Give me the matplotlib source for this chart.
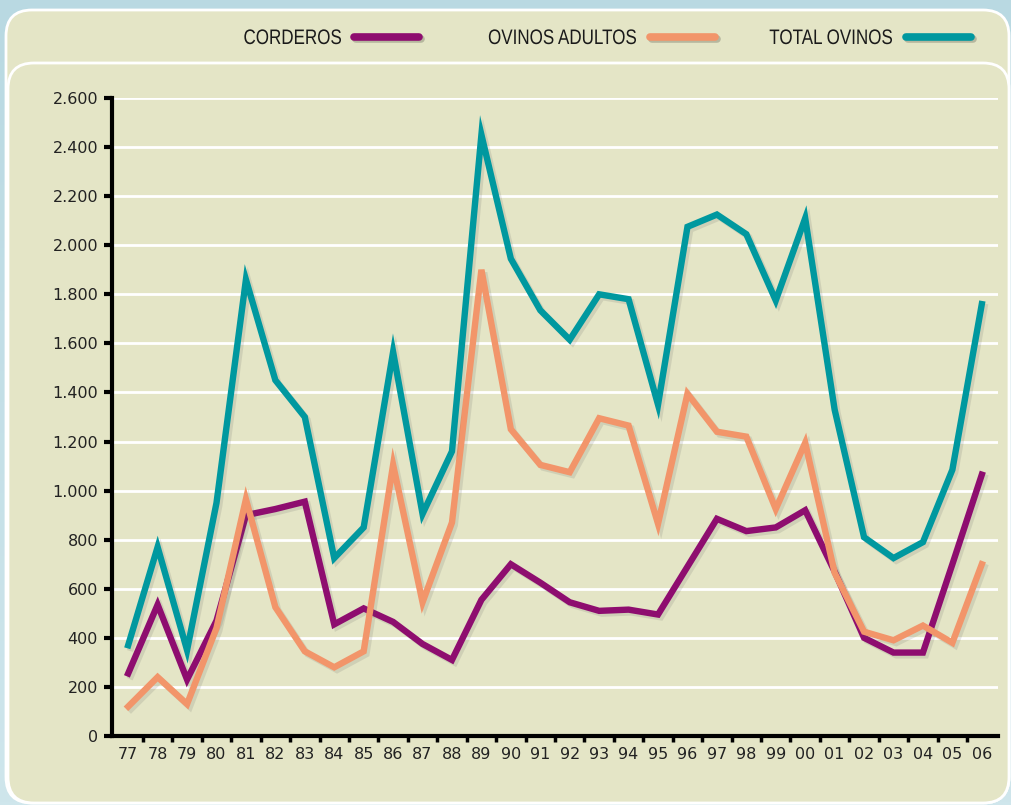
import matplotlib
matplotlib.use("Agg")
import matplotlib.pyplot as plt
import matplotlib.patheffects as pe
from matplotlib.patches import FancyBboxPatch, PathPatch
from matplotlib.textpath import TextPath
from matplotlib.font_manager import FontProperties
from matplotlib.transforms import Affine2D
from matplotlib.ticker import FuncFormatter, FixedLocator
import numpy as np

years = ["77", "78", "79", "80", "81", "82", "83", "84", "85", "86", "87", "88", "89", "90", "91",
         "92", "93", "94", "95", "96", "97", "98", "99", "00", "01", "02", "03", "04", "05", "06"]

corderos = [255, 535, 230, 470, 900, 925, 955, 455, 520, 465, 375, 310, 555, 700, 625,
            545, 510, 515, 495, 690, 885, 835, 850, 920, 670, 400, 340, 340, 700, 1065]
adultos = [120, 240, 130, 440, 965, 525, 345, 280, 345, 1105, 545, 870, 1900, 1250, 1105,
           1075, 1295, 1265, 865, 1395, 1240, 1220, 925, 1195, 665, 425, 390, 450, 380, 700]
total = [370, 770, 350, 950, 1860, 1450, 1300, 725, 850, 1565, 905, 1160, 2450, 1945, 1735,
         1615, 1800, 1780, 1350, 2075, 2125, 2045, 1775, 2110, 1330, 810, 725, 790, 1085, 1760]

series_names = ["CORDEROS", "OVINOS ADULTOS", "TOTAL OVINOS"]
series_colors = ["#8e0d6f", "#f2956a", "#00989f"]
y_ticks = list(range(0, 2601, 200))

W, H = 1012, 805
fig = plt.figure(figsize=(W / 100, H / 100), dpi=100)
fig.patch.set_facecolor("#c3dfe6")

bg = fig.add_axes([0, 0, 1, 1])
bg.set_xlim(0, W)
bg.set_ylim(H, 0)
bg.axis("off")
grad = np.linspace(0, 1, 256).reshape(-1, 1)
bg.imshow(grad, extent=[0, W, H, 0], cmap=matplotlib.colors.LinearSegmentedColormap.from_list(
    "g", ["#b9d9e2", "#cfe6ec"]), aspect="auto", zorder=0)
panel_col = "#e4e5c6"
outer = FancyBboxPatch((6, 10), 1003, 793, boxstyle="round,pad=0,rounding_size=26",
                       facecolor=panel_col, edgecolor="white", linewidth=2, zorder=1)
bg.add_patch(outer)
inner = FancyBboxPatch((8, 63), 1001, 740, boxstyle="round,pad=0,rounding_size=26",
                       facecolor=panel_col, edgecolor="white", linewidth=2, zorder=2)
bg.add_patch(inner)

# legend (condensed lettering drawn as real text paths)
fp = FontProperties(family="Liberation Sans")
leg_items = [(341, 354, 419), (636, 650, 715), (892, 906, 971)]
for name, col, (tx, l0, l1) in zip(series_names, series_colors, leg_items):
    tp = TextPath((0, 0), name, size=21, prop=fp)
    ext = tp.get_extents()
    sx = 0.81
    width = ext.x1 * sx
    tr = Affine2D().scale(sx, -1).translate(tx - width, 44)
    bg.add_patch(PathPatch(tr.transform_path(tp), facecolor="#1a1a1a", edgecolor="none", zorder=5))
    bg.plot([l0, l1], [37, 37], color=col, lw=5.5, solid_capstyle="round", zorder=5,
            path_effects=[pe.SimpleLineShadow(offset=(1.5, -1.5), alpha=0.2), pe.Normal()])

ax = fig.add_axes([112 / W, 1 - 736 / H, (998 - 112) / W, (736 - 98) / H])
ax.set_facecolor("none")
x = np.arange(len(years))
for vals, col in zip([corderos, adultos, total], series_colors):
    ax.plot(x, vals, color=col, lw=4.6, solid_joinstyle="miter", zorder=3,
            path_effects=[pe.SimpleLineShadow(offset=(2, -2), alpha=0.14, shadow_color="#555"), pe.Normal()])

ax.set_xlim(-0.55, len(years) - 0.45)
ax.set_ylim(0, 2600)
ax.set_yticks(y_ticks)
ax.yaxis.set_major_formatter(FuncFormatter(lambda v, p: f"{int(v):,}".replace(",", ".")))
for t in y_ticks[1:]:
    ax.axhline(t, color="white", lw=2, zorder=1)
ax.set_xticks(x)
ax.set_xticklabels(years)
ax.xaxis.set_minor_locator(FixedLocator(x[:-1] + 0.5))
ax.tick_params(axis="x", which="major", length=0, pad=8, labelsize=11.5, labelcolor="#222")
ax.tick_params(axis="x", which="minor", length=4, width=2.5, direction="out", color="black")
ax.tick_params(axis="y", which="major", length=6, width=3, pad=4, labelsize=11.5, labelcolor="#222")
for s in ["top", "right"]:
    ax.spines[s].set_visible(False)
for s in ["left", "bottom"]:
    ax.spines[s].set_linewidth(3)
    ax.spines[s].set_color("black")
    ax.spines[s].set_zorder(4)

fig.savefig("out.png", dpi=100)
